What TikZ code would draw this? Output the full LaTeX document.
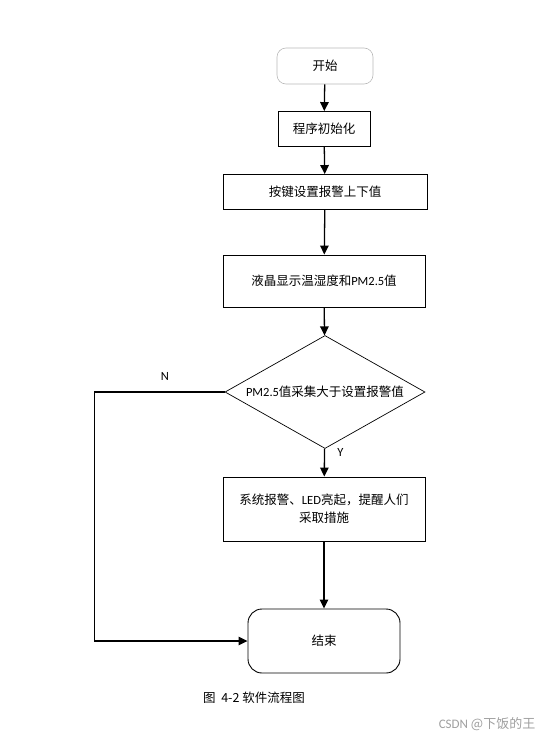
\documentclass[tikz,border=0pt]{standalone}
\usepackage{fontspec}
\setmainfont{Noto Sans CJK SC}
\newfontfamily\lat{Carlito}
\usetikzlibrary{shapes.geometric,arrows.meta}

\begin{document}
\begin{tikzpicture}[x=1pt,y=-1pt,
  font=\fontsize{12.5}{18}\selectfont,
  box/.style={draw,line width=0.9pt,inner sep=2pt,align=center},
  term/.style={box,rounded corners=14pt},
  arr/.style={line width=1.3pt,-{Triangle[length=9pt,width=8.5pt]}}]

\useasboundingbox (0,0) rectangle (554,747);

\node[box,rounded corners=9pt,draw=gray!55,line width=0.6pt,minimum width=96,minimum height=36] (start) at (325,66) {开始};
\node[box,minimum width=92,minimum height=35] (init) at (324,129) {程序初始化};
\node[box,minimum width=204,minimum height=35] (keys) at (325,192) {按键设置报警上下值};
\node[box,minimum width=202,minimum height=52] (lcd) at (324,281) {液晶显示温湿度和{\lat PM2.5}值};
\node[box,diamond,inner sep=0pt,line width=0.7pt,minimum width=200,minimum height=113] (judge) at (325,392) {};
\node (judgetext) at (judge) {{\lat PM2.5}值采集大于设置报警值};
\node[box,minimum width=202,minimum height=64] (alarm) at (324,509) {系统报警、{\lat LED}亮起，提醒人们\\采取措施};
\node[term,minimum width=152,minimum height=64] (stop) at (324,641) {结束};

\draw[arr] (start) -- (init);
\draw[arr] (init) -- (keys);
\draw[arr] (keys) -- (lcd);
\draw[arr] (lcd) -- (judge);
\draw[arr] (judge) -- node[pos=0.15,right=9pt] (yes) {\lat Y} (alarm);
\draw[arr] (alarm) -- (stop);
\draw[arr] (judge.west) -- node[pos=0.46,above=8pt] (no) {\lat N} ++(-130,0) |- (stop.west);

\node (caption) at (254,698) {图\ \ 4-2 软件流程图};
\node[text=gray!75,font=\fontsize{13}{15}\selectfont] (mark) at (487,724) {{\lat CSDN} @下饭的王};

\end{tikzpicture}
\end{document}
